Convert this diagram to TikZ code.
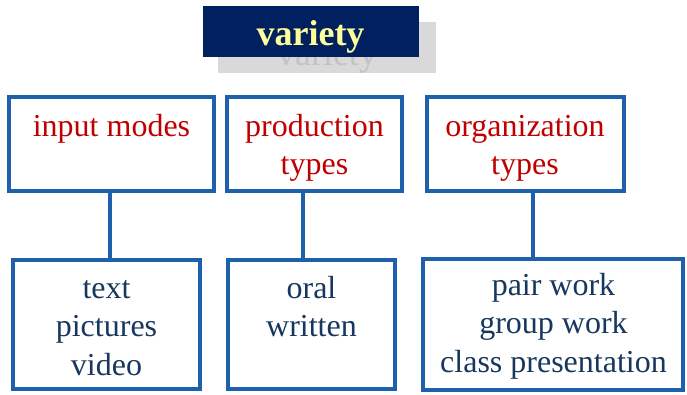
\documentclass[tikz,border=0pt]{standalone}
\usepackage{fontspec}
\setmainfont{Liberation Serif}
\definecolor{navy}{RGB}{0,32,96}
\definecolor{titleyellow}{RGB}{255,255,153}
\definecolor{boxblue}{RGB}{30,96,172}
\definecolor{headred}{RGB}{192,0,0}
\definecolor{itemblue}{RGB}{23,55,94}
\definecolor{shadowgray}{RGB}{217,217,217}
\definecolor{shadowtext}{RGB}{195,195,195}
\begin{document}
\begin{tikzpicture}[x=1pt,y=-1pt,
  box/.style={draw=boxblue, line width=3.5pt, fill=white, inner sep=0pt},
  link/.style={draw=boxblue, line width=3.5pt},
  headtext/.style={font=\fontsize{32}{37.5}\selectfont, text=headred, align=center, inner sep=0pt, anchor=base},
  itemtext/.style={font=\fontsize{32}{38.5}\selectfont, text=itemblue, align=center, inner sep=0pt, anchor=base}]
\useasboundingbox (0,0) rectangle (687,394);

% title with its drop shadow
\node[fill=shadowgray, minimum width=218pt, minimum height=51pt, inner sep=0pt] (shadow) at (327,47.5) {};
\node[font=\fontsize{36}{40}\selectfont, text=shadowtext, anchor=base, inner sep=0pt] (shadowlbl) at (327,65) {variety};
\node[fill=navy, minimum width=216pt, minimum height=51pt, inner sep=0pt] (title) at (311,31.5) {};
\node[font=\fontsize{36}{40}\selectfont\bfseries, text=titleyellow, anchor=base, inner sep=0pt] (titlelbl) at (310.5,45) {variety};

% upper row
\node[box, minimum width=205pt, minimum height=94pt] (modes) at (111.5,144) {};
\node[box, minimum width=175pt, minimum height=94pt] (prod) at (314.5,144) {};
\node[box, minimum width=197pt, minimum height=94pt] (org) at (525.5,144) {};

% lower row
\node[box, minimum width=187pt, minimum height=129pt] (media) at (106.5,324.5) {};
\node[box, minimum width=167pt, minimum height=129pt] (skills) at (311.5,324.5) {};
\node[box, minimum width=260pt, minimum height=131pt] (groups) at (553,324.5) {};

% connectors
\coordinate (k1) at (110,0);
\coordinate (k2) at (303,0);
\coordinate (k3) at (533,0);
\draw[link] (modes.south -| k1) -- (media.north -| k1);
\draw[link] (prod.south -| k2) -- (skills.north -| k2);
\draw[link] (org.south -| k3) -- (groups.north -| k3);

% labels (anchored at the baseline of their last line)
\node[headtext] (modeslbl) at (111.5,136.5) {input modes};
\node[headtext] (prodlbl) at (314.5,174) {production\\types};
\node[headtext] (orglbl) at (525,174) {organization\\types};
\node[itemtext] (medialbl) at (106.5,375) {text\\pictures\\video};
\node[itemtext] (skillslbl) at (311.5,336.5) {oral\\written};
\node[itemtext] (groupslbl) at (553.5,372) {pair work\\group work\\class presentation};
\end{tikzpicture}
\end{document}
